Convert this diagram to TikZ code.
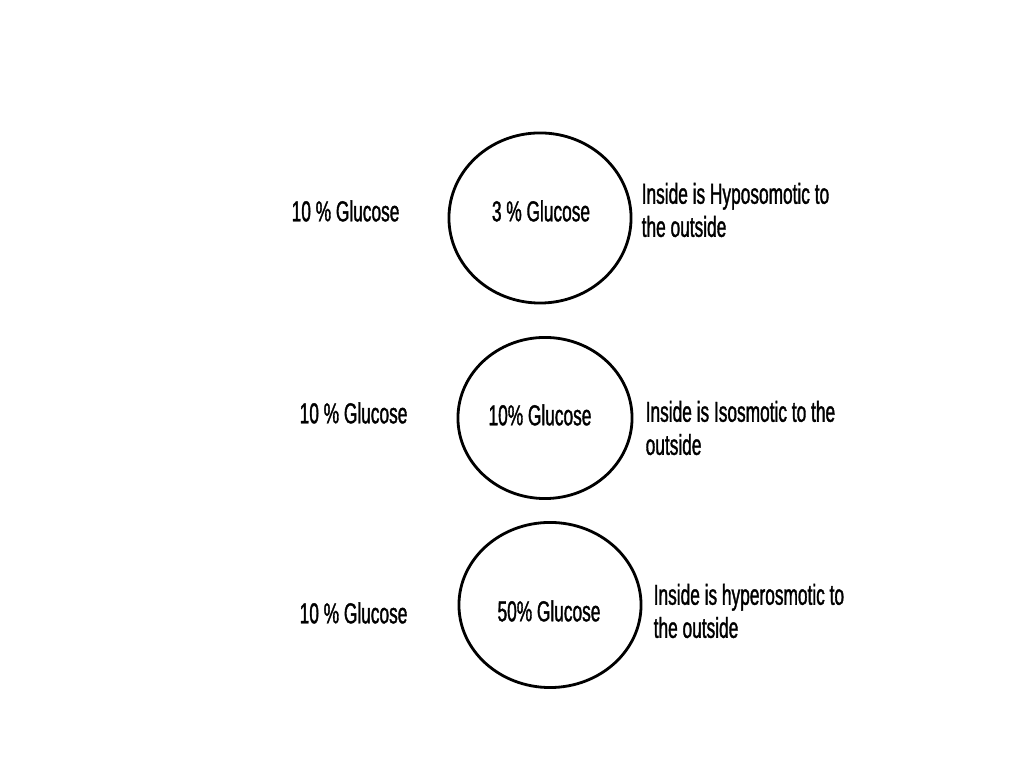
\documentclass[tikz,border=0pt]{standalone}
\usepackage{fontspec}
\setmainfont[FakeStretch=0.6,FakeBold=1.2]{Liberation Sans}
\usetikzlibrary{shapes.geometric}

\tikzset{
  cell/.style={draw, ellipse, line width=0.8pt, inner sep=0pt},
  conc/.style={inner sep=0pt, font=\fontsize{8.2}{9.4}\selectfont},
  note/.style={conc, anchor=west, align=left}
}

\begin{document}
\begin{tikzpicture}[x=0.01cm, y=-0.01cm]
    \useasboundingbox (0,0) rectangle (1024,768);

    % cells
    \node[cell, minimum width=1.82cm, minimum height=1.70cm] (cell1) at (540,218) {};
    \node[cell, minimum width=1.74cm, minimum height=1.61cm] (cell2) at (545,418) {};
    \node[cell, minimum width=1.82cm, minimum height=1.65cm] (cell3) at (550,605) {};

    % inside
    \node[conc] (in1) at (541,211) {3 \% Glucose};
    \node[conc] (in2) at (540,415) {10\% Glucose};
    \node[conc] (in3) at (549,611) {50\% Glucose};

    % outside
    \node[conc, anchor=west] (out1) at (291,211) {10 \% Glucose};
    \node[conc, anchor=west] (out2) at (299,413) {10 \% Glucose};
    \node[conc, anchor=west] (out3) at (299,613) {10 \% Glucose};

    % notes
    \node[note] (note1) at (641,210) {Inside is Hyposomotic to\\the outside};
    \node[note] (note2) at (645,428) {Inside is Isosmotic to the\\outside};
    \node[note] (note3) at (653,611) {Inside is hyperosmotic to\\the outside};
\end{tikzpicture}
\end{document}
